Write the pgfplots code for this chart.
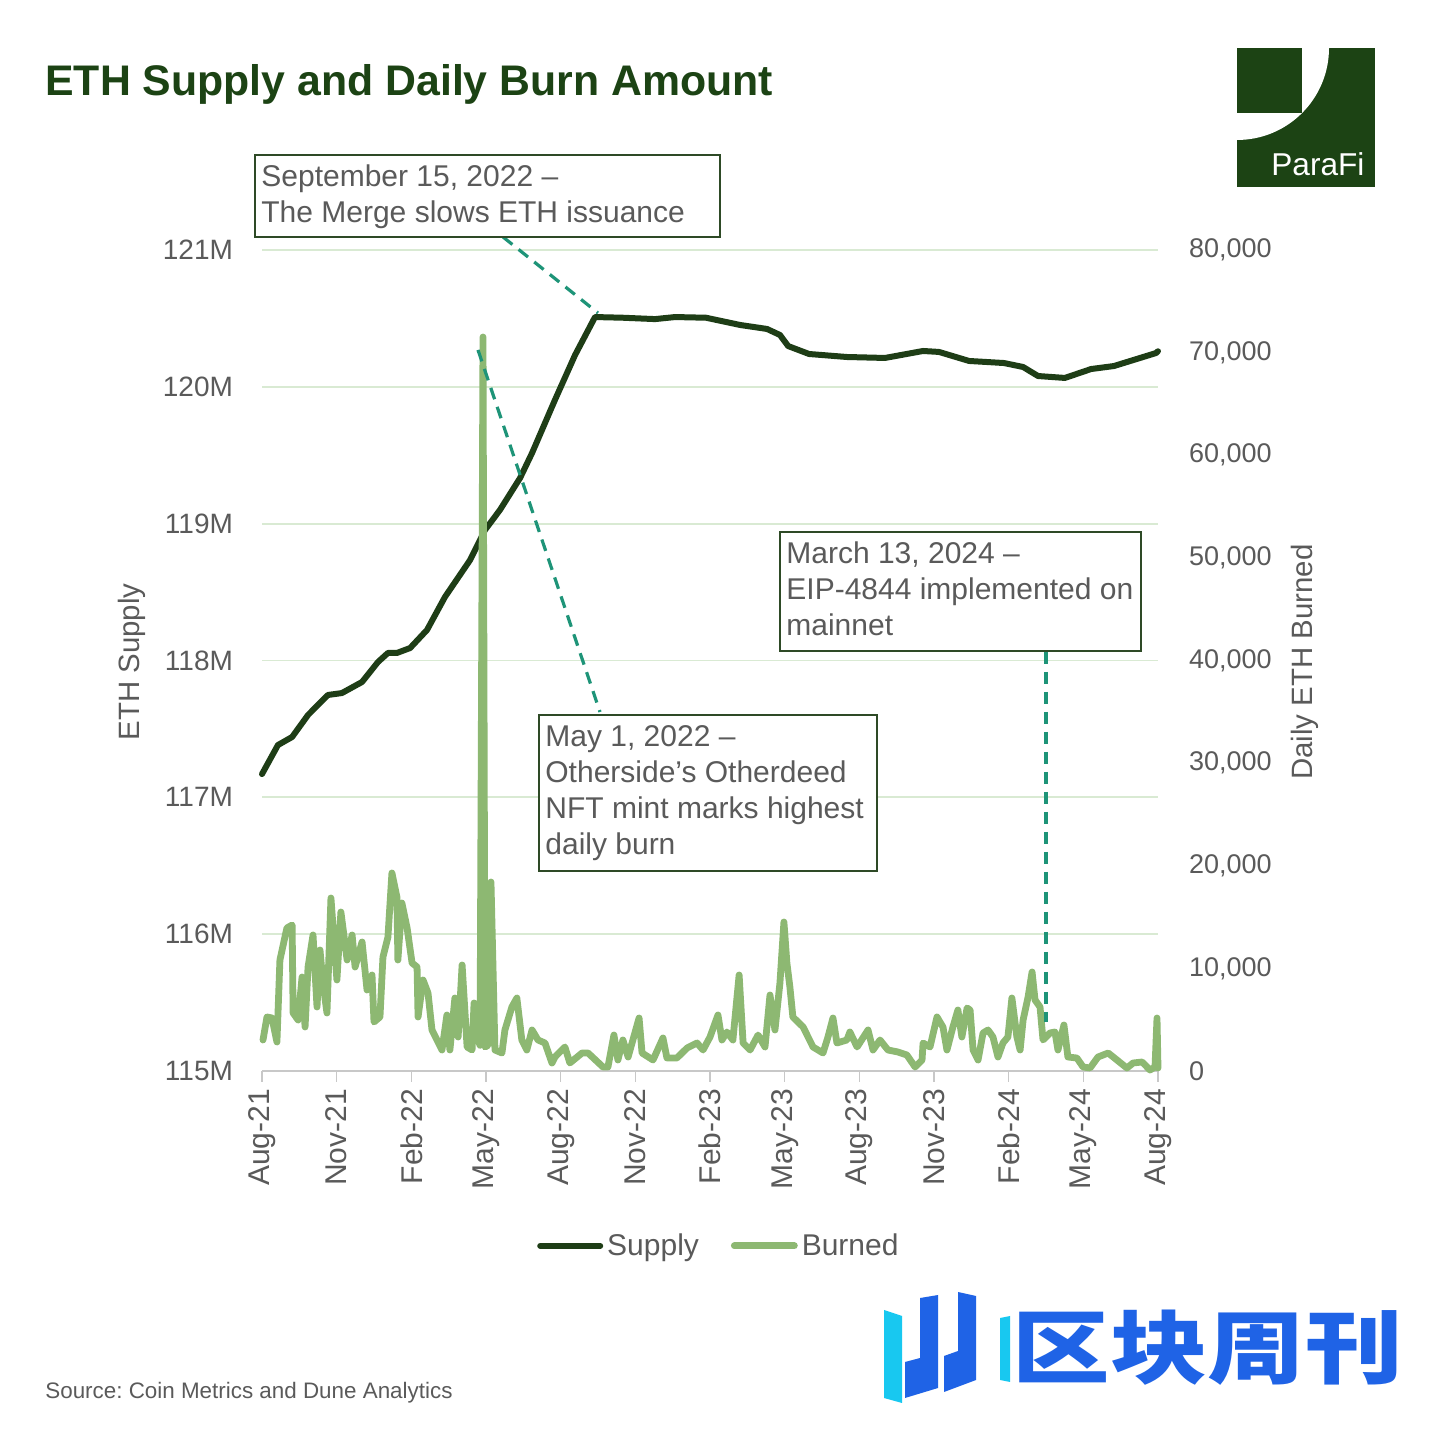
\documentclass[border=0pt]{standalone}
\usepackage{fontspec}
\setmainfont{Liberation Sans}
\newfontfamily\cjk{Noto Sans CJK SC}
\usepackage{pgfplots}
\pgfplotsset{compat=1.18}
\frenchspacing
\definecolor{supply}{HTML}{1E3D16}
\definecolor{burned}{HTML}{8DB872}
\definecolor{gridgreen}{HTML}{D9EAD3}
\definecolor{axisgray}{HTML}{C8C8C8}
\definecolor{txtgray}{HTML}{5A5A5A}
\definecolor{dashteal}{HTML}{1E9478}
\definecolor{boxgreen}{HTML}{2E4A26}
\definecolor{logogreen}{HTML}{1C4314}
\definecolor{wmblue}{HTML}{1F63E6}
\definecolor{wmcyan}{HTML}{18C8F0}
\begin{document}
\begin{tikzpicture}
\useasboundingbox (0,0) rectangle (720pt,720pt);
\fill[white] (0,0) rectangle (720pt,720pt);

\begin{axis}[
  at={(131pt,184.5pt)}, anchor=south west, scale only axis,
  width=448pt, height=410.5pt,
  xmin=0, xmax=36, ymin=115, ymax=121,
  clip=false,
  axis x line*=bottom, axis y line*=left,
  x axis line style={draw=axisgray, line width=1pt, -},
  y axis line style={draw=none},
  xtick={0,3,...,36},
  xticklabels={Aug-21,Nov-21,Feb-22,May-22,Aug-22,Nov-22,Feb-23,May-23,Aug-23,Nov-23,Feb-24,May-24,Aug-24},
  xtick align=outside, major tick length=5.5pt,
  xtick style={draw=axisgray, line width=0.8pt},
  x tick label style={rotate=90, anchor=east, font=\fontsize{15pt}{18pt}\selectfont, text=txtgray},
  ytick={115,116,...,121},
  yticklabels={115M,116M,117M,118M,119M,120M,121M},
  ytick style={draw=none},
  y tick label style={font=\fontsize{14pt}{17pt}\selectfont, text=txtgray, xshift=-11pt},
  ymajorgrids, major grid style={draw=gridgreen, line width=0.9pt},
  /pgf/number format/assume math mode=true,
]
\addplot[supply, line width=3pt, line join=round, line cap=round] coordinates {
(0,117.17) (0.64,117.382) (1.21,117.441) (1.85,117.602) (2.65,117.748) (3.21,117.762)
(4.02,117.843) (4.66,117.989) (5.06,118.055) (5.42,118.055) (5.95,118.091) (6.63,118.223)
(7.35,118.464) (8.36,118.734) (8.96,118.954) (9.56,119.100) (10.37,119.334) (10.85,119.516)
(11.77,119.904) (12.58,120.233) (13.38,120.510) (14.5,120.505) (15.79,120.495) (16.6,120.51) (17.84,120.505)
(19.21,120.452) (20.29,120.423) (20.81,120.379) (21.14,120.298) (21.98,120.240) (23.50,120.218)
(25.03,120.211) (26.56,120.262) (27.20,120.255) (28.41,120.189) (29.81,120.174) (30.58,120.145)
(31.18,120.079) (32.26,120.065) (33.31,120.130) (34.23,120.152) (35.92,120.247) (36,120.26)
};
\end{axis}

\begin{axis}[
  at={(131pt,184.5pt)}, anchor=south west, scale only axis,
  width=448pt, height=410.5pt,
  xmin=0, xmax=36, ymin=0, ymax=80000,
  clip=false, scaled y ticks=false,
  axis x line=none, axis y line*=right,
  y axis line style={draw=none},
  ytick={0,10000,...,80000},
  yticklabels={0,{10,000},{20,000},{30,000},{40,000},{50,000},{60,000},{70,000},{80,000}},
  ytick style={draw=none},
  y tick label style={font=\fontsize{13.5pt}{16pt}\selectfont, text=txtgray, xshift=12pt},
  /pgf/number format/assume math mode=true,
  legend style={at={(axis description cs:0.511,-0.213)}, anchor=center, draw=none, fill=none,
    font=\fontsize{15pt}{18pt}\selectfont, text=txtgray,
    /tikz/every even column/.append style={column sep=14pt}},
  legend columns=2,
  legend image code/.code={\draw[#1] (0pt,0pt) -- (30pt,0pt);},
]
\addlegendimage{supply, line width=3pt, line cap=round}
\addlegendentry{Supply}
\addplot[burned, line width=3.4pt, line join=round, line cap=round] coordinates {
(0.04,3021) (0.20,5262) (0.40,5164) (0.60,2826) (0.72,10816) (1.00,13934) (1.21,14226)
(1.25,5652) (1.45,4969) (1.61,9159) (1.73,4287) (1.85,10134) (2.05,13252) (2.21,6236)
(2.33,11790) (2.45,8575) (2.61,5652) (2.77,16857) (3.01,8867) (3.17,15493) (3.42,10816)
(3.62,13252) (3.74,10134) (4.02,12570) (4.22,7893) (4.42,9354) (4.50,4775) (4.74,5262)
(4.86,11108) (5.06,13057) (5.22,19293) (5.42,16955) (5.46,10816) (5.62,16370) (5.83,13934)
(6.03,10524) (6.23,10134) (6.27,5262) (6.47,8867) (6.67,7600) (6.83,3995) (7.23,2046)
(7.43,5457) (7.55,2046) (7.75,7113) (7.88,3313) (8.04,10329) (8.24,2339) (8.44,2046)
(8.52,6626) (8.64,3313) (8.76,2500) (8.88,71521) (8.96,2339) (9.08,2500) (9.20,18416)
(9.36,2046) (9.64,1754) (9.76,3995) (10.04,6236) (10.24,7113) (10.44,3021) (10.64,2046)
(10.85,3995) (11.09,3021) (11.37,2728) (11.65,780) (11.77,1364) (12.17,2339) (12.37,780)
(12.86,1754) (13.10,1754) (13.70,390) (13.90,390) (14.14,3508) (14.30,1072) (14.50,3021)
(14.71,1364) (15.15,5164) (15.27,1754) (15.71,1072) (16.11,3216) (16.27,1267) (16.67,1267)
(17.08,2241) (17.48,2728) (17.72,2046) (18.00,3313) (18.32,5457) (18.48,3021) (18.68,3800)
(18.92,3021) (19.17,9354) (19.33,2728) (19.61,2046) (19.93,3508) (20.21,2339) (20.41,7405)
(20.61,3995) (20.81,8575) (20.97,14519) (21.09,10524) (21.21,8185) (21.33,5262) (21.74,4287)
(22.14,2339) (22.54,1754) (22.74,3313) (22.94,5164) (23.10,2728) (23.50,3021) (23.62,3800)
(23.91,2339) (24.35,3995) (24.55,2046) (24.83,3021) (25.15,2046) (25.55,1851) (25.91,1559)
(26.24,390) (26.52,1072) (26.56,2728) (26.84,2339) (27.12,5262) (27.36,4287) (27.52,2046)
(27.76,4287) (27.96,5944) (28.12,3313) (28.33,6139) (28.45,5944) (28.57,2046) (28.77,1072)
(28.97,3703) (29.17,3995) (29.37,3313) (29.57,1364) (29.77,2728) (29.97,3313) (30.13,7113)
(30.33,3313) (30.46,2046) (30.58,4969) (30.78,7211) (30.94,9647) (31.06,6918) (31.26,6236)
(31.38,3021) (31.66,3703) (31.86,3800) (31.98,2046) (32.22,4482) (32.38,1364) (32.74,1267)
(32.99,390) (33.27,292) (33.59,1364) (34.00,1754) (34.35,1072) (34.75,292) (35.00,780)
(35.36,877) (35.68,97) (35.88,390) (35.96,5164) (36.00,292)
};
\addlegendentry{Burned}
\end{axis}

\begin{scope}[x=0.5pt, y=-0.5pt, yshift=720pt]
  % title
  \node[anchor=base west, inner sep=0, text=logogreen, font=\bfseries\fontsize{21.4pt}{26pt}\selectfont] at (45,96) {ETH Supply and Daily Burn Amount};
  % logo
  \fill[logogreen] (1237,48) rectangle (1375,187);
  \fill[white] (1237,48) -- (1329,48) .. controls (1329,98.8) and (1287.8,140) .. (1237,140) -- cycle;
  \fill[logogreen] (1237,48) rectangle (1302,113);
  \node[anchor=base west, inner sep=0, text=white, font=\fontsize{15.8pt}{18pt}\selectfont] at (1271,176) {ParaFi};
  % axis titles
  \node[rotate=90, inner sep=0, text=txtgray, font=\fontsize{14.7pt}{17pt}\selectfont] at (132,662) {ETH Supply};
  \node[rotate=90, inner sep=0, text=txtgray, font=\fontsize{14.7pt}{17pt}\selectfont] at (1305,662) {Daily ETH Burned};
  % connectors
  \draw[dashteal, line width=1.6pt, dash pattern=on 6pt off 4pt] (503,237) -- (598,313);
  \draw[dashteal, line width=1.6pt, dash pattern=on 6pt off 4pt] (478,350) -- (600,712);
  \draw[dashteal, line width=1.6pt, dash pattern=on 6pt off 4pt] (1046,652) -- (1046,1022);
  % boxes
  \filldraw[fill=white, draw=boxgreen, line width=0.8pt] (255,155) rectangle (720,237);
  \filldraw[fill=white, draw=boxgreen, line width=0.8pt] (539,715) rectangle (877,871);
  \filldraw[fill=white, draw=boxgreen, line width=0.8pt] (780,532) rectangle (1141,651);
  \begin{scope}[every node/.style={anchor=base west, inner sep=0, text=txtgray, font=\fontsize{15pt}{18pt}\selectfont}]
    \node at (261,187) {September 15, 2022 –};
    \node at (261,223) {The Merge slows ETH issuance};
    \node at (545,747) {May 1, 2022 –};
    \node at (545,783) {Otherside’s Otherdeed};
    \node at (545,819) {NFT mint marks highest};
    \node at (545,855) {daily burn};
    \node at (786,564) {March 13, 2024 –};
    \node at (786,600) {EIP-4844 implemented on};
    \node at (786,636) {mainnet};
  \end{scope}
  % source
  \node[anchor=base west, inner sep=0, text=txtgray, font=\fontsize{11.2pt}{13pt}\selectfont] at (45,1399) {Source: Coin Metrics and Dune Analytics};
  % watermark
  \fill[wmcyan] (884,1310) -- (902,1316) -- (902,1403) -- (884,1398) -- cycle;
  \fill[wmblue] (920,1298) -- (938,1295) -- (938,1388) -- (905,1398) -- (905,1362) -- (920,1358) -- cycle;
  \fill[wmblue] (958,1292) -- (976,1296) -- (976,1380) -- (944,1392) -- (944,1356) -- (958,1351) -- cycle;
  \fill[wmcyan] (1000,1318) -- (1010,1316) -- (1010,1382) -- (1000,1380) -- cycle;
  \node[anchor=west, inner sep=0, text=wmblue, xscale=1.22, font=\cjk\bfseries\fontsize{40pt}{44pt}\selectfont] at (1012,1348) {区块周刊};
\end{scope}
\end{tikzpicture}
\end{document}
